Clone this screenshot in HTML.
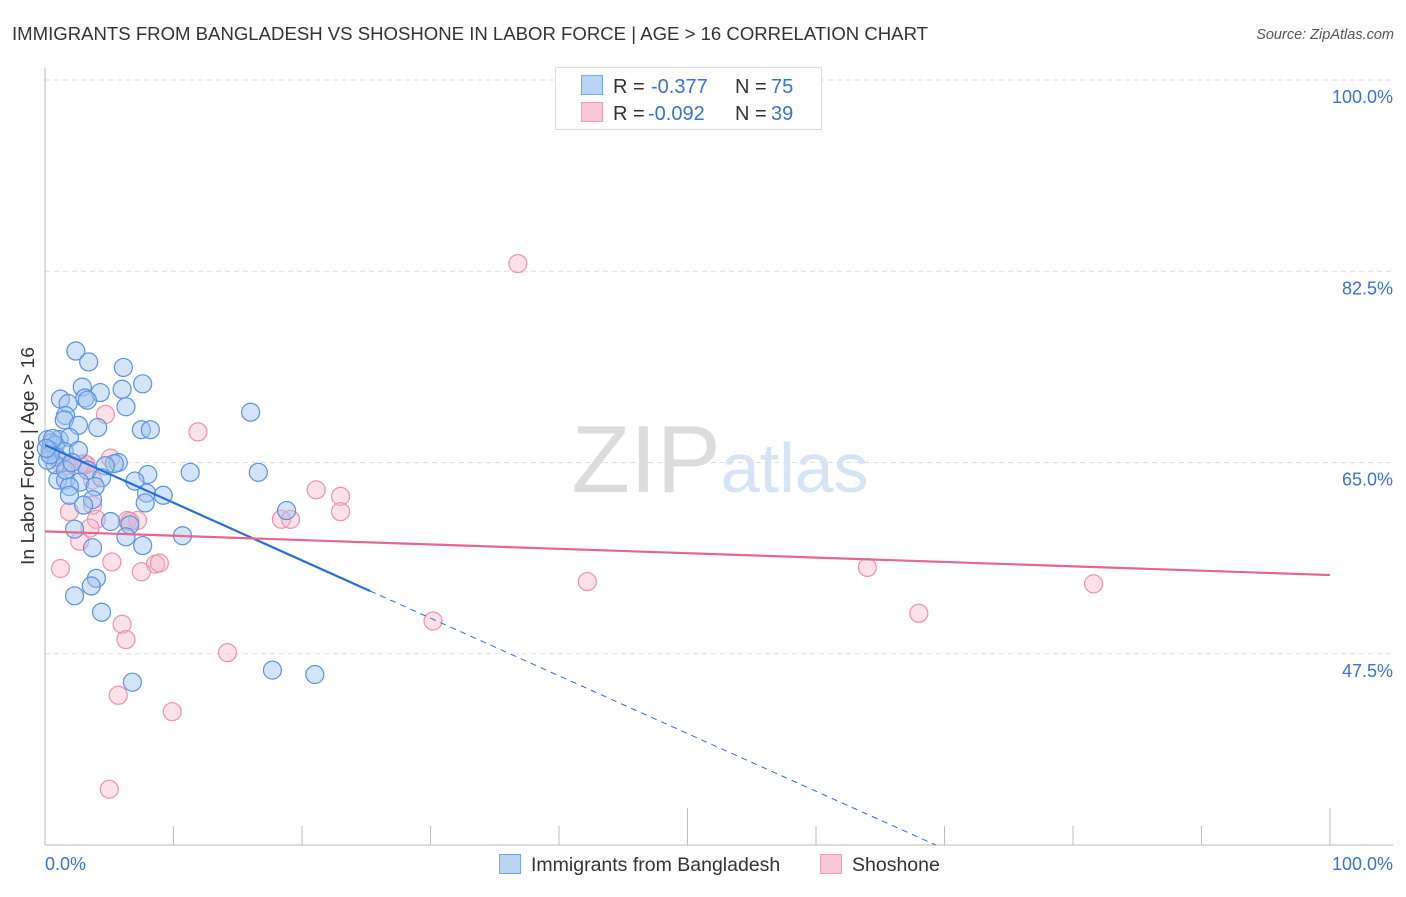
<!DOCTYPE html>
<html><head><meta charset="utf-8"><style>
body{margin:0;background:#fff;font-family:"Liberation Sans",sans-serif;}
svg text{font-family:"Liberation Sans",sans-serif;}
</style></head><body>
<svg id="chart" width="1406" height="892" xmlns="http://www.w3.org/2000/svg">
<text x="12" y="40" font-size="18" fill="#333" textLength="916" lengthAdjust="spacingAndGlyphs">IMMIGRANTS FROM BANGLADESH VS SHOSHONE IN LABOR FORCE | AGE &gt; 16 CORRELATION CHART</text>
<text x="1394" y="39" font-size="14.5" fill="#555" text-anchor="end" font-style="italic">Source: ZipAtlas.com</text>
<text x="720" y="492" font-size="96" text-anchor="middle" fill="#e6e6e6" font-family="Liberation Serif"><tspan fill="#dcdcdc">ZIP</tspan><tspan fill="#d6e4f5" font-family="Liberation Sans" font-size="70">atlas</tspan></text>
<g id="grid"></g>
<g id="axes"></g>
<text transform="translate(34,456) rotate(-90)" font-size="18" fill="#333" text-anchor="middle" textLength="218" lengthAdjust="spacingAndGlyphs">In Labor Force | Age &gt; 16</text>
<g id="pink"></g>
<g id="blue"></g>
<g id="trends"></g>
<g>
<rect x="555.5" y="67.5" width="266" height="62" fill="#fff" stroke="#ddd"/>
<rect x="581.5" y="75.5" width="21" height="19" fill="#b9d3f5" stroke="#7aa6e0"/>
<rect x="581.5" y="102.5" width="21" height="19" fill="#fac7d6" stroke="#f0a0b8"/>
<text x="613" y="93" font-size="20" fill="#333">R =</text>
<text x="651" y="93" font-size="20" fill="#3a72d0">-0.377</text>
<text x="735" y="93" font-size="20" fill="#333">N =</text>
<text x="771" y="93" font-size="20" fill="#3a72d0">75</text>
<text x="613" y="120" font-size="20" fill="#333">R =</text>
<text x="648" y="120" font-size="20" fill="#3a72d0">-0.092</text>
<text x="735" y="120" font-size="20" fill="#333">N =</text>
<text x="771" y="120" font-size="20" fill="#3a72d0">39</text>
</g>
<g>
<rect x="499.5" y="854.5" width="21" height="19" fill="#b9d3f5" stroke="#7aa6e0"/>
<text x="531" y="871" font-size="19.5" fill="#333">Immigrants from Bangladesh</text>
<rect x="820.5" y="854.5" width="21" height="19" fill="#fac7d6" stroke="#f0a0b8"/>
<text x="852" y="871" font-size="19.5" fill="#333">Shoshone</text>
</g>
</svg>
<script>
const yTicks=[100,82.5,65,47.5];
const yTickLabels=["100.0%","82.5%","65.0%","47.5%"];
const xTicks=[0,10,20,30,40,50,60,70,80,90,100];
const blueX=[2.4,3.4,6.1,7.6,2.9,6.0,4.3,1.2,1.8,3.1,3.3,6.3,16.0,1.6,1.5,2.6,4.1,7.5,8.2,1.1,1.9,0.2,0.5,0.8,0.4,1.5,2.6,0.9,5.7,5.4,4.7,3.3,11.3,16.6,8.0,4.4,1.0,1.6,2.7,7.0,1.9,3.9,7.9,1.9,9.2,3.7,7.8,3.0,18.8,5.1,6.6,2.3,6.3,10.7,7.6,3.7,4.0,3.6,2.3,4.4,17.7,21.0,6.8,0.8,0.2,1.6,2.1,0.4,0.6,0.1];
const blueY=[75.2,74.2,73.7,72.2,71.9,71.7,71.4,70.8,70.4,70.9,70.7,70.1,69.6,69.3,68.9,68.4,68.2,68.0,68.0,67.1,67.3,67.1,66.8,66.6,66.1,66.0,66.1,65.5,65.0,64.9,64.7,64.3,64.1,64.1,63.9,63.6,63.4,63.4,63.2,63.3,62.8,62.8,62.2,62.0,62.0,61.6,61.3,61.1,60.6,59.6,59.3,58.9,58.2,58.3,57.4,57.2,54.4,53.7,52.8,51.3,46.0,45.6,44.9,64.8,65.2,64.3,65.0,65.7,67.2,66.3];
const pinkX=[36.8,4.7,11.9,5.1,1.2,3.0,1.7,3.2,21.1,23.0,3.7,3.7,1.9,23.0,18.4,19.1,6.4,7.2,4.0,6.6,3.5,2.7,5.2,1.2,8.6,8.9,7.5,42.2,64.0,81.6,68.0,30.2,6.0,6.3,14.2,5.7,9.9,5.0,2.7];
const pinkY=[83.2,69.4,67.8,65.4,65.0,64.9,64.7,64.8,62.5,61.9,63.4,61.1,60.5,60.5,59.8,59.8,59.7,59.7,59.8,59.6,59.0,57.8,55.9,55.3,55.7,55.8,55.0,54.1,55.4,53.9,51.2,50.5,50.2,48.8,47.6,43.7,42.2,35.1,64.8];
const blueTrend=[66.6,-0.528]; // intercept, slope
const blueSolidEnd=25.3;
const pinkTrend=[58.7,54.7]; // y at 0 and 100
const NS="http://www.w3.org/2000/svg";
const X0=45,X1=1330;
function sx(v){return X0+(v/100)*(X1-X0);}
function sy(v){return 845-(v-30)/70*(845-80);}
function mk(tag,attrs,parent){const e=document.createElementNS(NS,tag);for(const k in attrs)e.setAttribute(k,attrs[k]);parent.appendChild(e);return e;}
const grid=document.getElementById('grid'),axes=document.getElementById('axes');
yTicks.forEach((t,i)=>{
  const l=mk('line',{x1:45,x2:1393,y1:sy(t),y2:sy(t),stroke:'#ddd','stroke-dasharray':'5,4'},grid);
  
  
  const tx=mk('text',{x:1393,y:sy(t)+23,'font-size':18,fill:'#3a72d0','text-anchor':'end'},axes);
  tx.textContent=yTickLabels[i];
  
  
});
mk('line',{x1:45,x2:45,y1:68,y2:845,stroke:'#bbb'},axes);
mk('line',{x1:45,x2:1393,y1:845,y2:845,stroke:'#bbb'},axes);
xTicks.forEach(t=>{
  const long=(t===0||t===50||t===100);
  const l=mk('line',{x1:sx(t),x2:sx(t),y1:long?808:826,y2:845,stroke:'#bbb'},axes);
  
  
});
const xl0=mk('text',{x:45,y:870,'font-size':18,fill:'#3a72d0'},axes);xl0.textContent='0.0%';


const xl1=mk('text',{x:1393,y:870,'font-size':18,fill:'#3a72d0','text-anchor':'end'},axes);xl1.textContent='100.0%';


const pg=document.getElementById('pink');
pinkX.forEach((x,i)=>{
  const c=mk('circle',{cx:sx(x),cy:sy(pinkY[i]),r:9,fill:'rgba(248,180,200,0.4)',stroke:'#ee92ae','stroke-width':1.2},pg);
  
  
});
const bg=document.getElementById('blue');
blueX.forEach((x,i)=>{
  const c=mk('circle',{cx:sx(x),cy:sy(blueY[i]),r:9,fill:'rgba(160,196,240,0.45)',stroke:'#5a93dd','stroke-width':1.2},bg);
  
  
});
const tg=document.getElementById('trends');
const by=v=>blueTrend[0]+blueTrend[1]*v;
const xEnd=(blueTrend[0]-30)/-blueTrend[1];
const b1=mk('line',{x1:sx(0),y1:sy(by(0)),x2:sx(blueSolidEnd),y2:sy(by(blueSolidEnd)),stroke:'#2a6fd6','stroke-width':2.2},tg);


const b2=mk('line',{x1:sx(blueSolidEnd),y1:sy(by(blueSolidEnd)),x2:sx(xEnd),y2:sy(30),stroke:'#2a6fd6','stroke-width':1,'stroke-dasharray':'6,5'},tg);


const p1=mk('line',{x1:sx(0),y1:sy(pinkTrend[0]),x2:sx(100),y2:sy(pinkTrend[1]),stroke:'#e4678f','stroke-width':2.2},tg);


</script>
</body></html>
